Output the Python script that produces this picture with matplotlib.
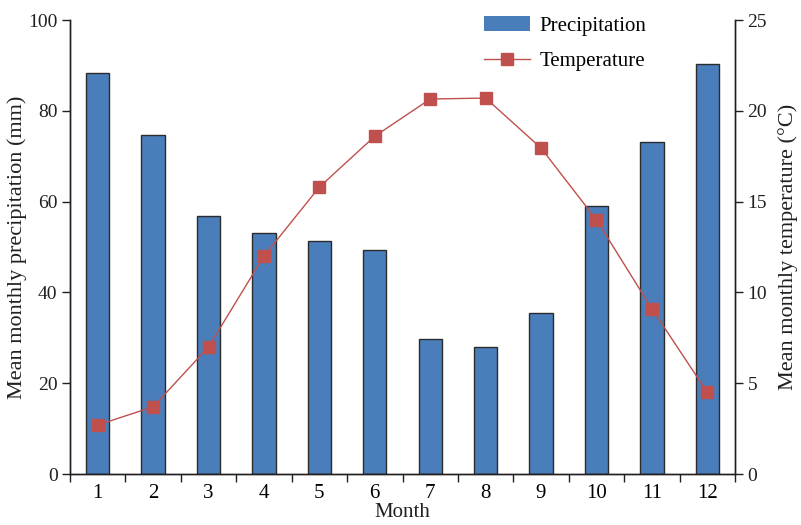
import matplotlib
matplotlib.use("Agg")
import matplotlib.pyplot as plt
import numpy as np
from matplotlib.patches import Patch
from matplotlib.lines import Line2D

months = [1, 2, 3, 4, 5, 6, 7, 8, 9, 10, 11, 12]
precip = [88.3, 74.7, 56.8, 53.1, 51.3, 49.3, 29.8, 27.9, 35.5, 59.0, 73.1, 90.3]
temp = [2.7, 3.7, 7.0, 12.0, 15.8, 18.6, 20.65, 20.7, 17.95, 14.0, 9.1, 4.5]

plt.rcParams["font.family"] = ["Liberation Serif", "DejaVu Serif"]
plt.rcParams["font.size"] = 15

bar_color = "#4a7ebb"
line_color = "#c0504d"
text_color = "#231f20"

fig = plt.figure(figsize=(8.01, 5.25), dpi=100)
ax = fig.add_axes([0.0874, 0.0971, 0.8302, 0.8648])
ax2 = ax.twinx()

ax.bar(months, precip, width=0.42, color=bar_color, edgecolor="#2b2b2b", linewidth=1.0, zorder=2)
ax2.plot(months, temp, color=line_color, lw=1.0, marker="s", markersize=9,
         markerfacecolor=line_color, markeredgecolor=line_color, zorder=3)

ax.set_xlim(0.5, 12.5)
ax.set_ylim(0, 100)
ax2.set_ylim(0, 25)
ax.set_yticks([0, 20, 40, 60, 80, 100])
ax2.set_yticks([0, 5, 10, 15, 20, 25])

# boundaries get tick marks, month labels sit in the middle
ax.set_xticks(np.arange(0.5, 13, 1))
ax.set_xticklabels([])
ax.set_xticks(months, minor=True)
ax.set_xticklabels([str(m) for m in months], minor=True)
ax.tick_params(axis="x", which="minor", length=0, pad=7)
ax.tick_params(axis="x", which="major", length=6, width=1, direction="out")
ax.tick_params(axis="y", length=6, width=1, direction="out", pad=3)
ax2.tick_params(axis="y", length=6, width=1, direction="out", pad=3)

for a in (ax, ax2):
    a.spines["top"].set_visible(False)
    for s in a.spines.values():
        s.set_color(text_color)
        s.set_linewidth(1.0)
    a.tick_params(colors=text_color, labelsize=14)

ax.set_xlabel("Month", fontsize=15, color=text_color, labelpad=0)
ax.set_ylabel("Mean monthly precipitation (mm)", fontsize=16, color=text_color, labelpad=1)
ax2.set_ylabel("Mean monthly temperature (°C)", fontsize=16, color=text_color, labelpad=8)

handles = [
    Patch(facecolor=bar_color, edgecolor="none"),
    Line2D([0], [0], color=line_color, lw=1.0, marker="s", markersize=9,
           markerfacecolor=line_color, markeredgecolor=line_color),
]
ax2.legend(handles, ["Precipitation", "Temperature"], loc="upper right",
           bbox_to_anchor=(0.895, 1.05), frameon=False, fontsize=15,
           handlelength=2.2, labelspacing=0.75, handletextpad=0.45)

fig.savefig("out.png", dpi=100)
